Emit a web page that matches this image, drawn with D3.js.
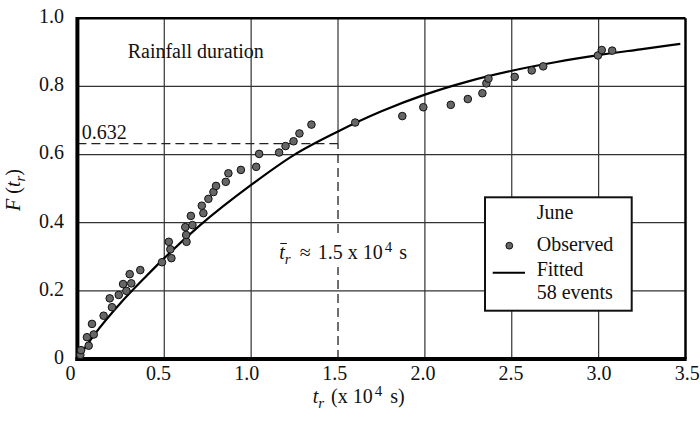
<!DOCTYPE html>
<html>
<head>
<meta charset="utf-8">
<script src="https://cdn.jsdelivr.net/npm/d3@7"></script>
<style>
  body { margin: 0; background: #fff; }
  svg { display: block; }
  text { font-family: "Liberation Serif", "Times New Roman", serif; fill: #111; }
</style>
</head>
<body>
<svg id="chart" width="700" height="423"></svg>
<script>
// Axis ticks and labels
const xTicks = [0, 0.5, 1.0, 1.5, 2.0, 2.5, 3.0, 3.5];
const xTickLabels = ["0", "0.5", "1.0", "1.5", "2.0", "2.5", "3.0", "3.5"];
const yTicks = [0, 0.2, 0.4, 0.6, 0.8, 1.0];
const yTickLabels = ["0", "0.2", "0.4", "0.6", "0.8", "1.0"];
const xGrid = [0.5, 1.0, 1.5, 2.0, 2.5, 3.0];
const yGrid = [0.2, 0.4, 0.6, 0.8];

// Observed June rainfall durations (x 10^4 s) and their empirical probabilities
const obsT = [0.017, 0.021, 0.065, 0.055, 0.094, 0.084, 0.151, 0.199, 0.186, 0.238,
              0.282, 0.263, 0.310, 0.301, 0.362, 0.487, 0.541, 0.535, 0.526, 0.628,
              0.626, 0.621, 0.662, 0.653, 0.725, 0.716, 0.754, 0.783, 0.798, 0.854,
              0.869, 0.941, 1.029, 1.046, 1.161, 1.198, 1.244, 1.278, 1.347, 1.599,
              1.870, 1.991, 2.149, 2.247, 2.331, 2.354, 2.366, 2.517, 2.615, 2.681,
              2.996, 3.018, 3.078];
const obsF = [0.012, 0.026, 0.039, 0.064, 0.072, 0.103, 0.127, 0.152, 0.178, 0.188,
              0.200, 0.220, 0.222, 0.249, 0.261, 0.284, 0.296, 0.322, 0.344, 0.344,
              0.364, 0.387, 0.393, 0.420, 0.428, 0.450, 0.470, 0.490, 0.508, 0.520,
              0.545, 0.555, 0.564, 0.602, 0.606, 0.625, 0.639, 0.662, 0.688, 0.694,
              0.713, 0.739, 0.746, 0.763, 0.780, 0.809, 0.823, 0.828, 0.847, 0.859,
              0.891, 0.907, 0.905];

// Fitted distribution curve
const fitT = [0, 0.1, 0.25, 0.4, 0.5, 0.7, 1.0, 1.25, 1.5, 1.75, 2.0, 2.25, 2.5, 2.75, 3.0, 3.24, 3.47];
const fitF = [0, 0.073, 0.165, 0.245, 0.296, 0.390, 0.511, 0.600, 0.668, 0.727, 0.776, 0.815, 0.846, 0.871, 0.892, 0.909, 0.925];

// Mean duration and its probability level
const meanT = 1.5;
const meanF = 0.632;

const svg = d3.select("#chart");

const x = d3.scaleLinear().domain([0, 3.5]).range([77.4, 685.5]);
const y = d3.scaleLinear().domain([0, 1]).range([359, 18.3]);
// tick labels sit on a slightly wider spacing than the grid
const xLab = d3.scaleLinear().domain([0, 3.5]).range([70, 686.7]);

// grid
const grid = svg.append("g").attr("stroke", "#333").attr("stroke-width", 1.2);
grid.selectAll("line.v").data(xGrid).join("line")
  .attr("x1", d => x(d)).attr("x2", d => x(d))
  .attr("y1", y(1))
  .attr("y2", d => d === meanT ? y(meanF) : y(0));
grid.selectAll("line.h").data(yGrid).join("line")
  .attr("x1", x(0)).attr("x2", x(3.5))
  .attr("y1", d => y(d)).attr("y2", d => y(d));

// dashed guides to the mean
const guides = svg.append("g").attr("stroke", "#222").attr("stroke-width", 1.3)
  .attr("stroke-dasharray", "9,5").attr("fill", "none");
guides.append("line")
  .attr("x1", x(0)).attr("x2", x(meanT))
  .attr("y1", y(meanF)).attr("y2", y(meanF));
guides.append("line")
  .attr("x1", x(meanT)).attr("x2", x(meanT))
  .attr("y1", y(0)).attr("y2", y(meanF));

// fitted curve
const fitData = fitT.map((t, i) => ({ t, f: fitF[i] }));
svg.append("path")
  .datum(fitData)
  .attr("fill", "none").attr("stroke", "#000").attr("stroke-width", 2.2)
  .attr("d", d3.line().x(d => x(d.t)).y(d => y(d.f)).curve(d3.curveMonotoneX));

// frame
svg.append("line").attr("x1", x(0)).attr("x2", x(3.5)).attr("y1", y(1)).attr("y2", y(1))
  .attr("stroke", "#000").attr("stroke-width", 2.5);
svg.append("line").attr("x1", x(3.5)).attr("x2", x(3.5)).attr("y1", y(1)).attr("y2", y(0))
  .attr("stroke", "#000").attr("stroke-width", 2.5);
svg.append("line").attr("x1", x(0)).attr("x2", x(0)).attr("y1", y(1) - 1.2).attr("y2", y(0) + 2)
  .attr("stroke", "#000").attr("stroke-width", 4);
svg.append("line").attr("x1", x(0) - 2).attr("x2", x(3.5) + 1.2).attr("y1", y(0)).attr("y2", y(0))
  .attr("stroke", "#000").attr("stroke-width", 4);

// observed points
const obsData = obsT.map((t, i) => ({ t, f: obsF[i] }));
svg.append("g").selectAll("circle").data(obsData).join("circle")
  .attr("cx", d => x(d.t)).attr("cy", d => y(d.f)).attr("r", 3.8)
  .attr("fill", "#666").attr("stroke", "#111").attr("stroke-width", 1);

// tick labels
const yAxis = svg.append("g").attr("transform", "translate(66,0)")
  .call(d3.axisLeft(y).tickValues(yTicks).tickFormat((d, i) => yTickLabels[i]).tickSize(0).tickPadding(2));
yAxis.select(".domain").remove();
yAxis.selectAll("text").attr("font-size", 20).attr("dy", "0.22em")
  .style("font-family", "'Liberation Serif', 'Times New Roman', serif").attr("fill", "#111");

const xAxis = svg.append("g").attr("transform", `translate(0,${y(0)})`)
  .call(d3.axisBottom(xLab).tickValues(xTicks).tickFormat((d, i) => xTickLabels[i]).tickSize(0).tickPadding(7));
xAxis.select(".domain").remove();
xAxis.selectAll("text").attr("font-size", 20)
  .style("font-family", "'Liberation Serif', 'Times New Roman', serif").attr("fill", "#111");

// axis titles
const xt = svg.append("text").attr("x", 312.7).attr("y", 403).attr("font-size", 20);
xt.append("tspan").attr("font-style", "italic").text("t");
xt.append("tspan").attr("font-style", "italic").attr("font-size", 15).attr("dy", 5).text("r");
xt.append("tspan").attr("dy", -5).attr("dx", 2).text(" (x 10");
xt.append("tspan").attr("font-size", 15).attr("dy", -7).attr("dx", 2).text("4");
xt.append("tspan").attr("dy", 7).attr("dx", 3).text(" s)");

const yt = svg.append("text").attr("transform", "translate(20,190) rotate(-90)")
  .attr("text-anchor", "middle").attr("font-size", 20);
yt.append("tspan").attr("font-style", "italic").text("F");
yt.append("tspan").text(" (");
yt.append("tspan").attr("font-style", "italic").text("t");
yt.append("tspan").attr("font-style", "italic").attr("font-size", 15).attr("dy", 5).text("r");
yt.append("tspan").attr("dy", -5).text(")");

// annotations
svg.append("text").attr("x", 127.7).attr("y", 58).attr("font-size", 20).text("Rainfall duration");
svg.append("text").attr("x", 81.7).attr("y", y(meanF) - 5).attr("font-size", 20).text(String(meanF));

// mean-duration label with a white backing over the dashed guide
const mg = svg.append("g");
const mbg = mg.append("rect").attr("fill", "#fff");
const mt = mg.append("text").attr("x", 279.3).attr("y", 259).attr("font-size", 20);
mt.append("tspan").attr("font-style", "italic").text("t");
mt.append("tspan").attr("font-style", "italic").attr("font-size", 15).attr("dy", 5).text("r");
mt.append("tspan").attr("dy", -5).attr("dx", 4).text(" \u2248");
mt.append("tspan").attr("dx", 2).text(" 1.5 x 10");
mt.append("tspan").attr("font-size", 15).attr("dy", -7).attr("dx", 2).text("4");
mt.append("tspan").attr("dy", 7).attr("dx", 2).text(" s");
const tb = mt.node().getBBox();
mbg.attr("x", tb.x - 2).attr("y", tb.y - 2).attr("width", tb.width + 4).attr("height", tb.height + 2);
const ext = mt.node().getExtentOfChar(0);
mg.append("line")
  .attr("x1", ext.x + 1).attr("x2", ext.x + ext.width + 2)
  .attr("y1", ext.y + 2.5).attr("y2", ext.y + 2.5)
  .attr("stroke", "#111").attr("stroke-width", 1);

// legend
const lg = svg.append("g");
lg.append("rect").attr("x", 485).attr("y", 197.3).attr("width", 146.7).attr("height", 113.4)
  .attr("fill", "#fff").attr("stroke", "#111").attr("stroke-width", 2);
lg.append("text").attr("x", 536.7).attr("y", 219).attr("font-size", 20).text("June");
lg.append("circle").attr("cx", 509.3).attr("cy", 245.7).attr("r", 3.4)
  .attr("fill", "#666").attr("stroke", "#111").attr("stroke-width", 1);
lg.append("text").attr("x", 536.7).attr("y", 250.5).attr("font-size", 20).text("Observed");
lg.append("line").attr("x1", 492.7).attr("x2", 525).attr("y1", 272.7).attr("y2", 272.7)
  .attr("stroke", "#000").attr("stroke-width", 2);
lg.append("text").attr("x", 536.7).attr("y", 275.5).attr("font-size", 20).text("Fitted");
lg.append("text").attr("x", 536.7).attr("y", 299.3).attr("font-size", 20).text("58 events");
</script>
</body>
</html>
